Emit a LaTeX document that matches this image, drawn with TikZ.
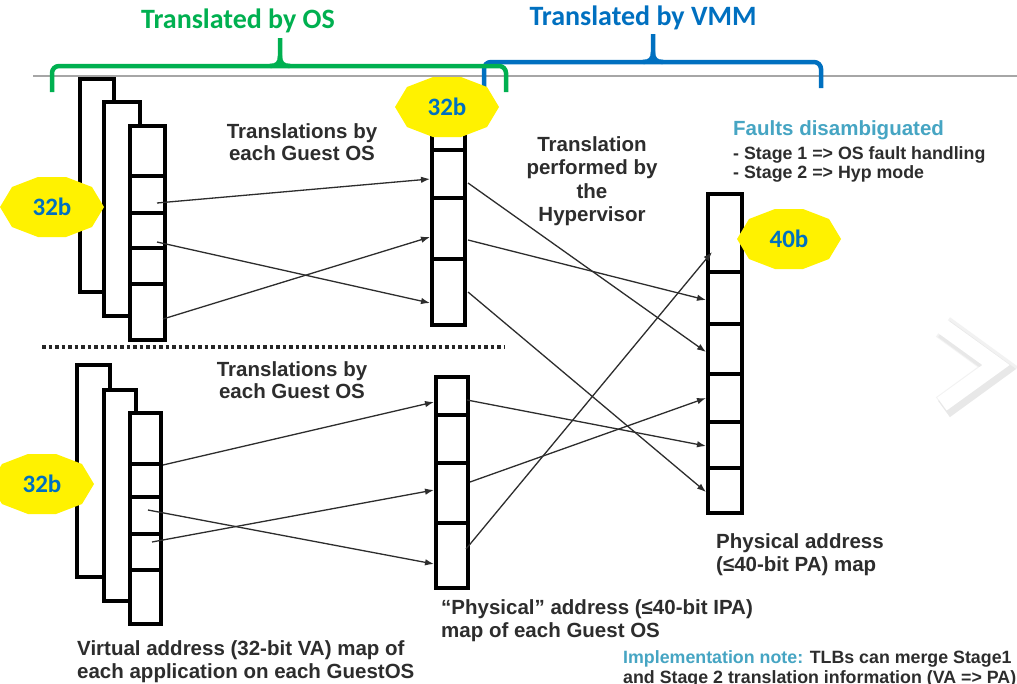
\documentclass[tikz,border=0pt]{standalone}
\usepackage{fontspec}
\setmainfont{Liberation Sans}
\newfontfamily\calib{Carlito}
\usetikzlibrary{arrows.meta}
\definecolor{osgreen}{RGB}{0,176,80}
\definecolor{vmmblue}{RGB}{0,112,192}
\definecolor{tealtxt}{RGB}{70,165,195}
\definecolor{txt}{RGB}{45,45,45}
\tikzset{
  box/.style={draw=black, line width=4pt, fill=white, inner sep=0pt, outer sep=0pt, rectangle},
  div/.style={line width=3.5pt, draw=black},
  conn/.style={line width=1.3pt, draw=txt, -{Latex[length=9pt,width=6.5pt]}},
  lbl/.style={font=\bfseries\fontsize{20.5}{22}\selectfont, text=txt, align=center, inner sep=0pt},
  lbll/.style={font=\bfseries\fontsize{20.5}{23}\selectfont, text=txt, align=left, inner sep=0pt, anchor=north west},
  brace/.style={line width=4.5pt, rounded corners=7pt},
  bracetip/.style={line width=4.5pt},
  badgetxt/.style={font=\calib\bfseries\fontsize{25}{25}\selectfont, text=vmmblue, inner sep=0pt},
  ttl/.style={font=\calib\bfseries\fontsize{28}{28}\selectfont, inner sep=0pt},
}
\newcommand\mybadge[4]{%
  \fill[yellow] ({#2+52},{#3}) -- ({#2+40},{#3-20}) -- ({#2+14},{#3-30}) -- ({#2-14},{#3-30}) -- ({#2-40},{#3-20}) -- ({#2-52},{#3}) -- ({#2-40},{#3+20}) -- ({#2-14},{#3+30}) -- ({#2+14},{#3+30}) -- ({#2+40},{#3+20}) -- cycle;
  \node[badgetxt] (#1) at (#2,#3) {#4};
}
\begin{document}
\begin{tikzpicture}[x=1pt,y=-1pt]
\useasboundingbox (0,0) rectangle (1017,683);
\fill[white] (0,0) rectangle (1017,683);

% white chevron with soft shadow at right edge
\draw[line width=24pt, black!5, line join=miter] (943,327) -- (998,367) -- (943,407);
\draw[line width=20pt, black!9, line join=miter] (944,329) -- (999,369) -- (944,409);
\draw[line width=16pt, white, line join=miter] (942,326) -- (996,365) -- (942,404);

% gray rule
\draw[line width=2pt, black!35] (33,76) -- (1017,76);

% braces
\draw[brace, vmmblue] (484,88) -- (484,62) -- (821,62) -- (821,88);
\draw[bracetip, vmmblue] (653,34) -- (653,52) .. controls (653,59) and (650,62) .. (643,62);
\draw[bracetip, vmmblue] (653,52) .. controls (653,59) and (656,62) .. (663,62);
\draw[brace, osgreen] (52,92) -- (52,66) -- (506,66) -- (506,92);
\draw[bracetip, osgreen] (280,38) -- (280,56) .. controls (280,63) and (277,66) .. (270,66);
\draw[bracetip, osgreen] (280,56) .. controls (280,63) and (283,66) .. (290,66);
\node[ttl, text=osgreen] (tos) at (238,21) {Translated by OS};
\node[ttl, text=vmmblue] (tvmm) at (643,18) {Translated by VMM};

% upper VA stack
\node[box, minimum width=34pt, minimum height=213pt] (U1) at (97,185.5) {};
\node[box, minimum width=36pt, minimum height=214pt] (U2) at (122,209) {};
\node[box, minimum width=35pt, minimum height=214pt] (U3) at (147.5,233) {};
\foreach \yy in {176,213,248,284} \draw[div] (U3.west |- 0,\yy) -- (U3.east |- 0,\yy);

% lower VA stack
\node[box, minimum width=33pt, minimum height=212pt] (L1) at (93.5,471) {};
\node[box, minimum width=32pt, minimum height=211pt] (L2) at (120,495.5) {};
\node[box, minimum width=31pt, minimum height=211pt] (L3) at (145.5,518.5) {};
\foreach \yy in {464,497,534,570} \draw[div] (L3.west |- 0,\yy) -- (L3.east |- 0,\yy);

% IPA maps
\node[box, minimum width=33pt, minimum height=220pt] (M1) at (448.5,215) {};
\foreach \yy in {150,198,259} \draw[div] (M1.west |- 0,\yy) -- (M1.east |- 0,\yy);
\node[box, minimum width=32pt, minimum height=211pt] (M2) at (452,482.5) {};
\foreach \yy in {415,463,523} \draw[div] (M2.west |- 0,\yy) -- (M2.east |- 0,\yy);

% PA map
\node[box, minimum width=34pt, minimum height=319pt] (R) at (725,353.5) {};
\foreach \yy in {272,324,374,422,468} \draw[div] (R.west |- 0,\yy) -- (R.east |- 0,\yy);

% dotted separator
\draw[line width=3.5pt, dash pattern=on 3.5pt off 3pt, black!85] (42,347) -- (505,347);

% connector end points
\coordinate (a1s) at (157,203); \coordinate (a1e) at (430,179);
\coordinate (a2s) at (157,242); \coordinate (a2e) at (430,303);
\coordinate (a3s) at (163,319); \coordinate (a3e) at (430,237);
\coordinate (b1s) at (468,183); \coordinate (b1e) at (706,352);
\coordinate (b2s) at (468,240); \coordinate (b2e) at (706,300);
\coordinate (b3s) at (468,292); \coordinate (b3e) at (706,492);
\coordinate (c1s) at (163,465); \coordinate (c1e) at (434,402);
\coordinate (c2s) at (148,510); \coordinate (c2e) at (434,564);
\coordinate (c3s) at (152,542); \coordinate (c3e) at (434,490);
\coordinate (d1s) at (467,400); \coordinate (d1e) at (706,446);
\coordinate (d2s) at (470,482); \coordinate (d2e) at (706,398);
\coordinate (d3s) at (466,549); \coordinate (d3e) at (712,252);
\foreach \p in {a1,a2,a3,b1,b2,b3,c1,c2,c3,d1,d2,d3} \draw[conn] (\p s) -- (\p e);

% labels
\node[lbl, anchor=north] (tg1) at (302,123) {Translations by\\each Guest OS};
\node[lbl, anchor=north] (tg2) at (292,361) {Translations by\\each Guest OS};
\node[lbl, anchor=north, font=\bfseries\fontsize{20.5}{23.5}\selectfont] (thyp) at (592,136) {Translation\\performed by\\the\\Hypervisor};
\node[inner sep=0pt, anchor=north west, text=tealtxt, font=\bfseries\fontsize{20.5}{22}\selectfont] (faults) at (733,120) {Faults disambiguated};
\node[inner sep=0pt, anchor=north west, align=left, text=txt, font=\bfseries\fontsize{17.8}{19}\selectfont] (stages) at (733,146) {- Stage 1 => OS fault handling\\- Stage 2 => Hyp mode};
\node[lbll] (pa) at (716,533) {Physical address\\(≤40-bit PA) map};
\node[lbll] (ipa) at (441,599) {“Physical” address (≤40-bit IPA)\\map of each Guest OS};
\node[lbll] (va) at (77,640) {Virtual address (32-bit VA) map of\\each application on each GuestOS};
\node[inner sep=0pt, anchor=north west, align=left, text=txt, font=\bfseries\fontsize{17.8}{20}\selectfont] (impl) at (623,650) {{\color{tealtxt}Implementation note:} TLBs can merge Stage1\\and Stage 2 translation information (VA => PA)};

% badges
\mybadge{bU}{52}{207}{32b}
\mybadge{bL}{42}{484}{32b}
\mybadge{bM}{447}{107}{32b}
\mybadge{bR}{789}{239}{40b}
\end{tikzpicture}
\end{document}
